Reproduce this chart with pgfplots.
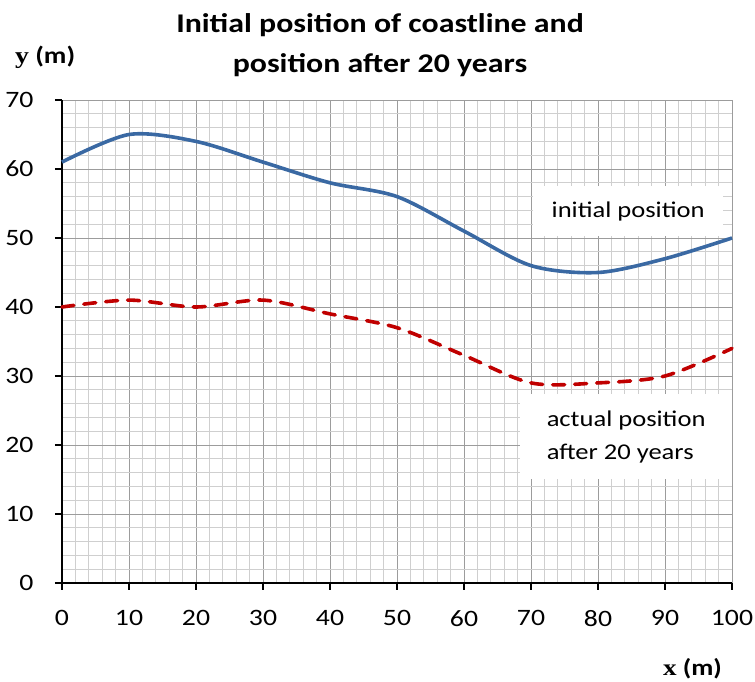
\documentclass[border=0pt]{standalone}
\usepackage{pgfplots}
\pgfplotsset{compat=1.18}
\usepackage{fontspec}
\setmainfont{Carlito}[FakeStretch=1.18]
\newfontfamily\serifb{Liberation Serif}[FakeStretch=1.18]
\definecolor{blueline}{HTML}{3A69A3}
\definecolor{redline}{HTML}{C00000}
\definecolor{majgrid}{HTML}{9C9C9C}
\definecolor{mingrid}{HTML}{CFCFCF}
\begin{document}
\begin{tikzpicture}[x=1pt,y=1pt]
\useasboundingbox (-62,-99) rectangle (693,583);
\begin{axis}[
  at={(0,0)}, anchor=south west,
  scale only axis, width=670pt, height=483pt,
  xmin=0, xmax=100, ymin=0, ymax=70,
  xtick={0,10,...,100}, ytick={0,10,...,70},
  minor tick num=4,
  grid=both,
  major grid style={majgrid, line width=0.9pt},
  minor grid style={mingrid, line width=0.8pt},
  axis x line=bottom, axis y line=left,
  axis line style={-, black, line width=2pt},
  tick align=outside,
  major tick length=7pt, minor tick length=0pt,
  tick style={black, line width=1.6pt},
  ticklabel style={font=\fontsize{23.5}{26}\selectfont},
  /pgf/number format/assume math mode=true,
  xticklabel style={yshift=-17pt},
  yticklabel style={xshift=-18pt},
  clip=false,
]
\addplot[blueline, line width=3.6pt, smooth, tension=0.5] coordinates {
 (0,61) (10,65) (20,64) (30,61) (40,58) (50,56) (60,51) (70,46) (80,45) (90,47) (100,50)};
\addplot[redline, line width=3.6pt, smooth, tension=0.5, line cap=round, dash pattern=on 12pt off 10pt] coordinates {
 (0,40) (10,41) (20,40) (30,41) (40,39) (50,37) (60,33) (70,29) (80,29) (90,30) (100,34)};
\node[fill=white, minimum width=190pt, minimum height=50pt, font=\fontsize{22.5}{26}\selectfont] at (axis cs:84.5,53.9) {initial position};
\node[fill=white, minimum width=212pt, minimum height=85pt, align=left, font=\fontsize{22.5}{33}\selectfont] at (axis cs:84.2,21.2) {actual position\\after 20 years};
\end{axis}
\node[align=center, font=\fontsize{27}{40}\selectfont\bfseries] at (318,538) {Initial position of coastline and\\position after 20 years};
\node[anchor=west, inner sep=0pt, font=\fontsize{23.5}{26}\selectfont\bfseries] at (-47,526) {{\serifb\bfseries y} (m)};
\node[anchor=west, inner sep=0pt, font=\fontsize{23}{26}\selectfont\bfseries] at (601,-86) {{\serifb\bfseries x} (m)};
\end{tikzpicture}
\end{document}
